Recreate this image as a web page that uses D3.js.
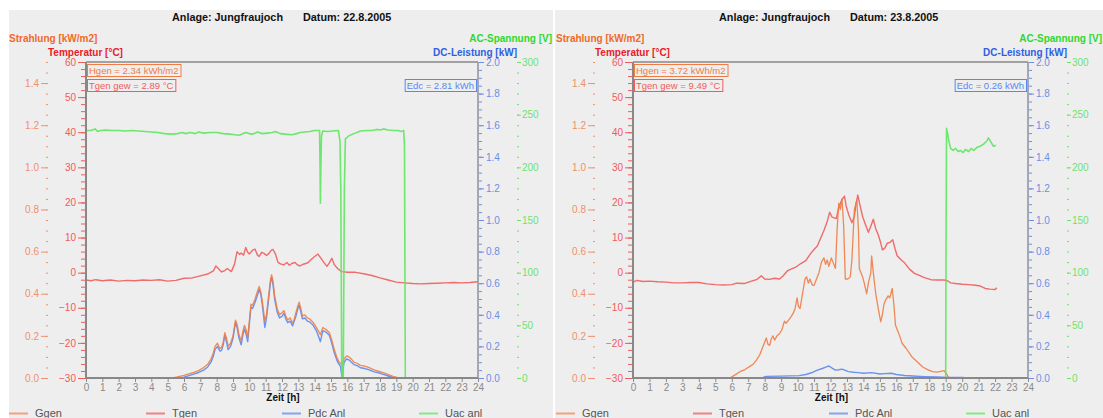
<!DOCTYPE html>
<html><head><meta charset="utf-8">
<script src="https://cdn.jsdelivr.net/npm/d3@7/dist/d3.min.js"></script>
<style>body{margin:0;background:#fff}svg{display:block;font-family:"Liberation Sans",Arial,sans-serif}</style>
</head><body><svg id="c" width="1103" height="418"></svg>
<script>
// ---------- data ----------
const hourTicks = d3.range(0, 25);
const tempTicks = [-30,-20,-10,0,10,20,30,40,50,60];
const tempMinor = d3.range(-30, 61, 2);
const radTicks = [0.0,0.2,0.4,0.6,0.8,1.0,1.2,1.4];
const radMinor = d3.range(0, 1.501, 0.05);
const dcTicks = [0.0,0.2,0.4,0.6,0.8,1.0,1.2,1.4,1.6,1.8,2.0];
const dcMinor = d3.range(0, 2.001, 0.05);
const acTicks = [0,50,100,150,200,250,300];
const acMinor = d3.range(0, 301, 10);
const legendNames = ["Ggen","Tgen","Pdc Anl","Uac anl"];

const titles = ["Anlage: Jungfraujoch","Anlage: Jungfraujoch"];
const dates = ["Datum: 22.8.2005","Datum: 23.8.2005"];
const hgenLabels = ["Hgen = 2.34 kWh/m2","Hgen = 3.72 kWh/m2"];
const tgenLabels = ["Tgen gew = 2.89 °C","Tgen gew = 9.49 °C"];
const edcLabels = ["Edc = 2.81 kWh","Edc = 0.26 kWh"];

// Day 1 (22.8.2005)  [hour, value]
const tgen1 = [[0,-2.1],[0.3,-2.3],[0.6,-2.0],[1,-2.3],[1.5,-2.1],[2,-2.4],[2.5,-2.2],[3,-2.3],[3.5,-2.1],[4,-2.2],[4.5,-2.0],[5,-2.4],[5.5,-2.2],[6,-1.6],[6.5,-1.5],[7,-0.9],[7.5,-0.3],[7.8,0.5],[7.95,1.9],[8.1,1.2],[8.3,0.2],[8.5,0.6],[8.65,1.2],[8.9,0.3],[9.1,2.5],[9.25,6.0],[9.4,5.2],[9.5,5.6],[9.65,5.0],[9.78,7.2],[9.9,5.8],[10.0,5.3],[10.2,6.4],[10.35,6.7],[10.5,5.0],[10.6,4.6],[10.75,5.8],[10.9,5.5],[11.05,4.9],[11.2,5.5],[11.35,6.4],[11.45,6.6],[11.6,5.3],[11.75,3.0],[11.9,2.5],[12.1,2.2],[12.3,2.9],[12.45,2.1],[12.6,2.6],[12.8,2.9],[12.95,2.2],[13.1,1.9],[13.3,2.4],[13.45,2.6],[13.6,2.9],[13.75,3.6],[14.0,4.6],[14.2,5.3],[14.4,4.0],[14.55,3.0],[14.75,1.8],[14.9,2.8],[15.05,4.1],[15.2,2.3],[15.4,1.2],[15.65,0.3],[16.0,0.1],[16.5,0.1],[17.0,-0.3],[17.5,-0.8],[18.0,-1.5],[18.5,-2.1],[19.0,-2.7],[19.5,-2.9],[20.0,-3.1],[20.5,-3.2],[21,-3.1],[21.5,-3.0],[22,-2.9],[22.5,-2.8],[23,-2.9],[23.5,-2.8],[24,-2.6]];
const ggen1 = [[5.3,0],[5.6,0.005],[6.0,0.012],[6.3,0.02],[6.6,0.027],[6.9,0.035],[7.2,0.05],[7.45,0.065],[7.65,0.09],[7.8,0.12],[7.9,0.15],[8.05,0.165],[8.2,0.14],[8.3,0.145],[8.4,0.17],[8.5,0.215],[8.6,0.19],[8.7,0.15],[8.85,0.165],[9.0,0.2],[9.15,0.275],[9.25,0.255],[9.35,0.21],[9.5,0.175],[9.6,0.22],[9.7,0.25],[9.8,0.23],[9.9,0.19],[10.0,0.27],[10.1,0.35],[10.2,0.345],[10.35,0.375],[10.45,0.4],[10.6,0.435],[10.7,0.41],[10.8,0.36],[10.95,0.27],[11.05,0.3],[11.15,0.37],[11.3,0.47],[11.37,0.49],[11.45,0.46],[11.55,0.39],[11.7,0.33],[11.85,0.3],[12.0,0.31],[12.12,0.32],[12.25,0.29],[12.35,0.275],[12.5,0.285],[12.65,0.26],[12.75,0.28],[12.85,0.31],[13.0,0.35],[13.05,0.36],[13.15,0.33],[13.25,0.295],[13.4,0.3],[13.55,0.285],[13.7,0.28],[13.9,0.265],[14.1,0.24],[14.25,0.22],[14.35,0.205],[14.5,0.24],[14.7,0.23],[14.9,0.215],[15.05,0.18],[15.2,0.135],[15.35,0.1],[15.5,0.075],[15.65,0.065],[15.8,0.09],[15.95,0.105],[16.1,0.1],[16.25,0.09],[16.4,0.075],[16.6,0.07],[16.8,0.06],[17.0,0.058],[17.3,0.05],[17.6,0.04],[17.9,0.033],[18.2,0.025],[18.55,0.015],[18.8,0.008],[19.05,0.003],[19.5,0]];
const pdc1 = [[5.3,0],[5.6,0],[6.0,0.005],[6.3,0.015],[6.6,0.025],[6.9,0.035],[7.2,0.05],[7.45,0.07],[7.65,0.1],[7.8,0.14],[7.9,0.18],[8.05,0.2],[8.2,0.17],[8.3,0.175],[8.4,0.21],[8.5,0.27],[8.6,0.23],[8.7,0.18],[8.85,0.2],[9.0,0.25],[9.15,0.35],[9.25,0.32],[9.35,0.26],[9.5,0.21],[9.6,0.27],[9.7,0.31],[9.8,0.28],[9.9,0.23],[10.0,0.34],[10.1,0.45],[10.2,0.44],[10.35,0.48],[10.45,0.51],[10.6,0.56],[10.7,0.53],[10.8,0.46],[10.95,0.32],[11.05,0.38],[11.15,0.47],[11.3,0.61],[11.37,0.635],[11.45,0.59],[11.55,0.5],[11.7,0.42],[11.85,0.38],[12.0,0.39],[12.12,0.41],[12.25,0.37],[12.35,0.35],[12.5,0.36],[12.65,0.33],[12.75,0.36],[12.85,0.39],[13.0,0.45],[13.05,0.46],[13.15,0.42],[13.25,0.375],[13.4,0.38],[13.55,0.36],[13.7,0.355],[13.9,0.335],[14.1,0.3],[14.25,0.26],[14.35,0.23],[14.5,0.3],[14.7,0.29],[14.9,0.27],[15.05,0.22],[15.2,0.16],[15.35,0.115],[15.5,0.085],[15.58,0.075],[15.68,0.0],[15.75,0.065],[15.8,0.1],[15.95,0.12],[16.1,0.115],[16.25,0.1],[16.4,0.085],[16.6,0.078],[16.8,0.065],[17.0,0.062],[17.3,0.053],[17.6,0.04],[17.9,0.033],[18.2,0.023],[18.55,0.011],[18.8,0.004],[19.05,0],[19.6,0]];
const uac1 = [[0,235],[0.3,235],[0.56,236.5],[0.7,234],[0.9,235],[1.2,235.5],[1.6,235],[2,235],[2.4,234.5],[2.8,235],[3.2,234.5],[3.6,234],[4.0,233.5],[4.4,233],[4.8,232],[5.2,231.5],[5.6,232],[5.9,233],[6.1,232],[6.4,233],[6.7,232],[6.9,233.5],[7.2,232.5],[7.6,233],[8.0,233],[8.4,232],[8.8,231.5],[9.1,231],[9.4,230.5],[9.6,232],[9.8,233],[10.0,232],[10.2,231.5],[10.5,233.5],[10.8,232],[11.1,232.5],[11.4,233],[11.6,234],[11.9,232],[12.2,231.5],[12.6,231],[12.9,232],[13.1,233],[13.4,233.5],[13.7,234],[14.0,235],[14.3,235],[14.33,200],[14.35,166],[14.38,200],[14.42,230],[14.5,234.5],[14.8,234],[15.1,234.5],[15.45,235],[15.55,225],[15.6,180],[15.66,0],[15.75,0],[15.82,180],[15.88,227],[16.1,230],[16.4,232],[16.8,234.5],[17.2,235],[17.5,235],[17.8,236],[18.0,235.5],[18.2,236.5],[18.5,235.5],[18.8,235],[19.1,235],[19.3,234],[19.45,235],[19.5,220],[19.55,0]];

// Day 2 (23.8.2005)
const tgen2 = [[0,-2.7],[0.25,-2.2],[0.6,-2.5],[1.0,-2.4],[1.5,-2.6],[2.0,-2.7],[2.5,-2.9],[3.0,-2.9],[3.5,-2.8],[4.0,-2.8],[4.5,-3.2],[5.0,-3.4],[5.5,-3.5],[6.0,-3.4],[6.3,-3.0],[6.75,-3.1],[7.2,-2.4],[7.5,-2.0],[7.8,-0.9],[8.0,-1.8],[8.3,-1.9],[8.6,-1.6],[8.9,-1.8],[9.1,-1.0],[9.4,0.6],[9.7,1.2],[9.9,1.6],[10.2,2.6],[10.5,3.4],[10.8,5.5],[11.0,6.6],[11.2,7.6],[11.4,9.8],[11.6,12.0],[11.8,14.6],[11.95,17.2],[12.1,15.8],[12.35,15.4],[12.5,18.5],[12.68,20.7],[12.85,21.8],[12.95,19.0],[13.1,16.6],[13.3,14.2],[13.45,16.0],[13.55,19.5],[13.66,22.1],[13.8,19.0],[13.95,16.0],[14.1,14.0],[14.3,11.5],[14.45,13.2],[14.6,15.2],[14.75,12.5],[14.9,10.8],[15.05,8.5],[15.15,6.5],[15.3,7.0],[15.45,8.4],[15.6,8.6],[15.78,9.4],[15.92,6.8],[16.05,4.8],[16.3,3.6],[16.5,2.8],[16.8,1.0],[17.1,-0.2],[17.4,-0.8],[17.7,-1.4],[18.1,-2.0],[18.5,-2.1],[18.9,-2.1],[19.1,-2.3],[19.3,-2.9],[19.6,-3.1],[20.0,-3.3],[20.4,-3.4],[20.8,-3.6],[21.1,-3.8],[21.4,-4.5],[21.7,-4.7],[22.0,-4.8],[22.1,-4.3]];
const ggen2 = [[5.9,0],[6.2,0.015],[6.5,0.03],[6.8,0.04],[7.1,0.055],[7.3,0.065],[7.5,0.085],[7.7,0.11],[7.9,0.15],[8.0,0.17],[8.1,0.19],[8.2,0.16],[8.3,0.155],[8.4,0.185],[8.5,0.2],[8.6,0.18],[8.75,0.2],[8.9,0.21],[9.05,0.23],[9.2,0.27],[9.3,0.26],[9.45,0.275],[9.6,0.29],[9.75,0.31],[9.85,0.33],[9.97,0.38],[10.05,0.34],[10.15,0.33],[10.3,0.4],[10.45,0.47],[10.55,0.48],[10.65,0.45],[10.75,0.47],[10.9,0.44],[11.0,0.44],[11.15,0.47],[11.3,0.5],[11.45,0.55],[11.6,0.57],[11.7,0.54],[11.8,0.56],[11.9,0.53],[12.05,0.57],[12.15,0.55],[12.3,0.52],[12.4,0.7],[12.5,0.83],[12.6,0.8],[12.7,0.85],[12.8,0.72],[12.9,0.47],[13.05,0.47],[13.2,0.48],[13.3,0.56],[13.45,0.8],[13.6,0.845],[13.7,0.7],[13.75,0.52],[13.85,0.5],[13.95,0.48],[14.05,0.45],[14.2,0.4],[14.3,0.45],[14.45,0.5],[14.5,0.58],[14.6,0.5],[14.75,0.4],[14.9,0.33],[15.05,0.267],[15.15,0.3],[15.25,0.35],[15.35,0.37],[15.5,0.39],[15.6,0.38],[15.75,0.425],[15.85,0.35],[15.95,0.25],[16.05,0.23],[16.2,0.2],[16.35,0.165],[16.6,0.14],[16.95,0.1],[17.3,0.075],[17.6,0.052],[17.9,0.04],[18.2,0.03],[18.5,0.028],[18.9,0.035],[19.05,0.02],[19.15,0.005],[19.3,0]];
const pdc2 = [[5.3,0.0],[6.0,0.0],[7.0,0.0],[7.9,0.003],[8.1,0.01],[9.0,0.012],[10.1,0.015],[10.5,0.022],[10.9,0.035],[11.2,0.05],[11.5,0.06],[11.75,0.07],[11.9,0.076],[12.1,0.062],[12.3,0.05],[12.5,0.052],[12.7,0.056],[12.9,0.048],[13.1,0.04],[13.4,0.036],[13.7,0.034],[14.0,0.03],[14.5,0.034],[15.0,0.025],[15.3,0.028],[15.7,0.03],[16.0,0.022],[16.5,0.016],[17.0,0.013],[17.7,0.009],[18.5,0.006],[19.2,0.004],[19.9,0.003],[20.1,0.003]];
const uac2 = [[19.0,0],[19.02,120],[19.05,237],[19.12,232],[19.2,224],[19.3,218],[19.45,216],[19.6,218],[19.75,215],[19.9,216],[20.05,214],[20.2,217],[20.4,215],[20.55,218],[20.7,216],[20.9,219],[21.1,220],[21.3,222],[21.5,225],[21.6,228],[21.75,224],[21.9,220],[22.05,221]];

const days = [
  {tgen: tgen1, ggen: ggen1, pdc: pdc1, uac: uac1},
  {tgen: tgen2, ggen: ggen2, pdc: pdc2, uac: uac2}
];

// ---------- style ----------
const C = {
  bg: "#eeeeee", frame: "#888888",
  gLine: "#f07c44", tLine: "#f05c5c", pLine: "#5a88f0", uLine: "#5ee65e",
  gTitle: "#f06a28", tTitle: "#e8202a", pTitle: "#2f5ee6", uTitle: "#2fd82f",
  gTick: "#f0906a", tTick: "#f05a5a", pTick: "#6a8ee8", uTick: "#6ee26e",
  gLeg: "#f4a07e", tLeg: "#f08282", pLeg: "#84a4f0", uLeg: "#88e888"
};

const svg = d3.select("#c");
svg.append("rect").attr("width",1103).attr("height",418).attr("fill","#fff");

const layout = [
  {x0: 0, bgL: 9, bgR: 553, plotL: 86, plotR: 478},
  {x0: 547, bgL: 555, bgR: 1103, plotL: 633, plotR: 1028}
];
const TOP = 62, BOT = 378;

layout.forEach((L, i) => {
  const d = days[i];
  const g = svg.append("g");
  g.append("rect").attr("x", L.bgL).attr("y", 10).attr("width", L.bgR - L.bgL).attr("height", 408).attr("fill", C.bg);

  const x = d3.scaleLinear([0, 24], [L.plotL, L.plotR]);
  const yT = d3.scaleLinear([-30, 60], [BOT, TOP]);
  const yG = d3.scaleLinear([0, 1.5], [BOT, TOP]);
  const yP = d3.scaleLinear([0, 2], [BOT, TOP]);
  const yU = d3.scaleLinear([0, 300], [BOT, TOP]);

  // titles
  g.append("text").attr("x", L.x0 + 172).attr("y", 21).attr("font-size", 10.8).attr("font-weight", "bold").attr("fill", "#111").text(titles[i]);
  g.append("text").attr("x", L.x0 + 303).attr("y", 21).attr("font-size", 10.8).attr("font-weight", "bold").attr("fill", "#111").text(dates[i]);

  // axis titles
  const at = (tx, ty, col, s, anchor) => g.append("text").attr("x", tx).attr("y", ty).attr("font-size", 10).attr("font-weight", "bold").attr("fill", col).attr("text-anchor", anchor || "start").attr("dominant-baseline", "central").text(s);
  at(L.x0 + 9, 38, C.gTitle, "Strahlung [kW/m2]");
  at(L.x0 + 48, 52, C.tTitle, "Temperatur [°C]");
  at(L.plotR + 39, 52, C.pTitle, "DC-Leistung [kW]", "end");
  at(L.bgR - 1, 38, C.uTitle, "AC-Spannung [V]", "end");

  // frame
  g.append("line").attr("x1", L.plotL).attr("x2", L.plotR).attr("y1", TOP).attr("y2", TOP).attr("stroke", C.frame).attr("stroke-width", 1.5);

  const styleAxis = (sel, col) => {
    sel.select(".domain").remove();
    sel.selectAll("line").attr("stroke", col);
    sel.selectAll("text").attr("fill", col).attr("font-size", 10).attr("font-family", "Liberation Sans, Arial, sans-serif");
  };

  // Temperature axis (left of plot)
  g.append("g").attr("transform", `translate(${L.plotL - 1},0)`).call(d3.axisLeft(yT).tickValues(tempMinor).tickSize(4).tickFormat("")).call(s => styleAxis(s, C.tTick));
  g.append("g").attr("transform", `translate(${L.plotL - 1},0)`).call(d3.axisLeft(yT).tickValues(tempTicks).tickSize(7).tickPadding(2).tickFormat(d3.format("d"))).call(s => styleAxis(s, C.tTick));

  // Strahlung axis (outer left)
  g.append("g").attr("transform", `translate(${L.x0 + 48},0)`).call(d3.axisLeft(yG).tickValues(radMinor).tickSize(2).tickFormat("")).call(s => styleAxis(s, C.gTick));
  g.append("g").attr("transform", `translate(${L.x0 + 47},0)`).call(d3.axisLeft(yG).tickValues(radTicks).tickSize(6).tickPadding(2).tickFormat(d3.format(".1f"))).call(s => styleAxis(s, C.gTick));

  // DC axis (right of plot)
  g.append("g").attr("transform", `translate(${L.plotR + 1},0)`).call(d3.axisRight(yP).tickValues(dcMinor).tickSize(3).tickFormat("")).call(s => styleAxis(s, C.pTick));
  g.append("g").attr("transform", `translate(${L.plotR + 1},0)`).call(d3.axisRight(yP).tickValues(dcTicks).tickSize(5).tickPadding(2).tickFormat(d3.format(".1f"))).call(s => styleAxis(s, C.pTick));

  // AC axis (outer right)
  g.append("g").attr("transform", `translate(${L.plotR + 39},0)`).call(d3.axisRight(yU).tickValues(acMinor).tickSize(2).tickFormat("")).call(s => styleAxis(s, C.uTick));
  g.append("g").attr("transform", `translate(${L.plotR + 39},0)`).call(d3.axisRight(yU).tickValues(acTicks).tickSize(4).tickPadding(1).tickFormat(d3.format("d"))).call(s => styleAxis(s, C.uTick));

  // X axis
  g.append("g").attr("transform", `translate(0,${BOT})`).call(d3.axisBottom(x).tickValues(hourTicks).tickSize(4).tickPadding(2).tickFormat(d3.format("d"))).call(s => styleAxis(s, "#8a8a8a"));
  g.append("text").attr("x", (L.plotL + L.plotR) / 2 + 1).attr("y", 397).attr("font-size", 10).attr("font-weight", "bold").attr("fill", "#111").attr("text-anchor", "middle").attr("dominant-baseline", "central").text("Zeit [h]");

  // series
  const line = (ys) => d3.line().x(p => x(p[0])).y(p => ys(p[1]));
  const plot = (data, ys, col, w) => g.append("path").datum(data).attr("d", line(ys)).attr("fill", "none").attr("stroke", col).attr("stroke-width", w).attr("stroke-opacity", 0.9).attr("stroke-linejoin", "round");
  plot(d.tgen, yT, C.tLine, 1.4);
  plot(d.pdc, yP, C.pLine, 1.4);
  plot(d.ggen, yG, C.gLine, 1.3);
  plot(d.uac, yU, C.uLine, 1.6);

  // axis lines on top
  g.append("line").attr("x1", L.plotL).attr("x2", L.plotL).attr("y1", TOP).attr("y2", BOT + 1).attr("stroke", C.frame).attr("stroke-width", 2);
  g.append("line").attr("x1", L.plotR).attr("x2", L.plotR).attr("y1", TOP).attr("y2", BOT + 1).attr("stroke", "#8a90a0").attr("stroke-width", 1.5);
  g.append("line").attr("x1", L.plotL).attr("x2", L.plotR).attr("y1", BOT).attr("y2", BOT).attr("stroke", C.frame).attr("stroke-width", 2);

  // info boxes
  const box = (bx, by, s, col, anchorRight) => {
    const t = g.append("text").attr("y", by + 6).attr("font-size", 9.5).attr("fill", col).attr("dominant-baseline", "central").text(s);
    const w = t.node().getComputedTextLength() + 4;
    const left = anchorRight ? bx - w : bx;
    t.attr("x", left + 2);
    g.append("rect").attr("x", left + 0.5).attr("y", by + 0.5).attr("width", w).attr("height", 12).attr("fill", "none").attr("stroke", col).attr("stroke-width", 1);
  };
  box(L.plotL + 1, 64, hgenLabels[i], C.gLine);
  box(L.plotL + 1, 79, tgenLabels[i], C.tLine);
  box(L.plotR - 2, 79, edcLabels[i], C.pLine, true);

  // legend
  const legCols = [C.gLeg, C.tLeg, C.pLeg, C.uLeg];
  const legX = [L.x0 + 9, L.x0 + 146, L.x0 + 282, L.x0 + 419];
  legendNames.forEach((n, k) => {
    g.append("line").attr("x1", legX[k]).attr("x2", legX[k] + 19).attr("y1", 413.5).attr("y2", 413.5).attr("stroke", legCols[k]).attr("stroke-width", 2);
    g.append("text").attr("x", legX[k] + 26).attr("y", 417).attr("font-size", 11).attr("fill", "#555").text(n);
  });
});
</script></body></html>
